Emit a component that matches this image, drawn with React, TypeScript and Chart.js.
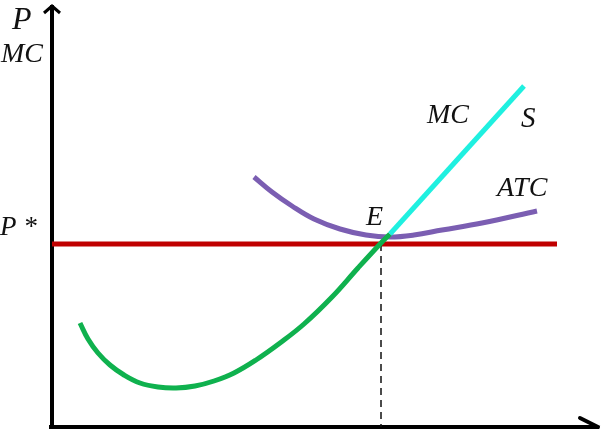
import React, { useEffect, useRef } from "react";
import { Chart, registerables } from "chart.js";

Chart.register(...registerables);

// Units: quantity (x) and price/cost (y), origin at the axes corner.
const mcLower = [
  { x: 28, y: 104 },
  { x: 36, y: 88 },
  { x: 46, y: 74 },
  { x: 58, y: 62 },
  { x: 72, y: 52 },
  { x: 88, y: 44 },
  { x: 106, y: 40 },
  { x: 124, y: 39 },
  { x: 143, y: 41 },
  { x: 162, y: 46 },
  { x: 182, y: 54 },
  { x: 204, y: 67 },
  { x: 228, y: 84 },
  { x: 252, y: 103 },
  { x: 280, y: 130 },
  { x: 306, y: 159 },
  { x: 329, y: 184 },
  { x: 338, y: 193 },
];

const supplyS = [
  { x: 338, y: 193 },
  { x: 472, y: 341 },
];

const atc = [
  { x: 202, y: 250 },
  { x: 220, y: 235 },
  { x: 240, y: 221 },
  { x: 262, y: 208 },
  { x: 288, y: 198 },
  { x: 314, y: 192 },
  { x: 338, y: 190 },
  { x: 362, y: 192 },
  { x: 390, y: 197 },
  { x: 430, y: 204 },
  { x: 485, y: 216 },
];

const pStar = 183;
const qStar = 329;
const priceLine = [
  { x: 0, y: pStar },
  { x: 505, y: pStar },
];
const dropLine = [
  { x: qStar, y: pStar },
  { x: qStar, y: 0 },
];

const yAxisLine = [
  { x: 0, y: -2 },
  { x: 0, y: 422 },
];
const yArrow = [
  { x: -8, y: 414 },
  { x: 0, y: 421 },
  { x: 8, y: 414 },
];
const xAxisLine = [
  { x: -3, y: 0 },
  { x: 546, y: 0 },
];
const xArrow = [
  { x: 528, y: 9 },
  { x: 546, y: 0 },
];

const labels = [
  { text: "P", x: -40, y: 398, size: 32 },
  { text: "MC", x: -51, y: 365, size: 28 },
  { text: "P *", x: -52, y: 192, size: 27 },
  { text: "MC", x: 375, y: 304, size: 28 },
  { text: "S", x: 469, y: 300, size: 29 },
  { text: "ATC", x: 445, y: 231, size: 28 },
  { text: "E", x: 314, y: 202, size: 28 },
];

const labelPlugin = {
  id: "econLabels",
  afterDatasetsDraw(chart: any) {
    const ctx = chart.ctx;
    const xs = chart.scales.x;
    const ys = chart.scales.y;
    ctx.save();
    ctx.fillStyle = "#111111";
    ctx.textBaseline = "alphabetic";
    ctx.textAlign = "left";
    for (const l of labels) {
      ctx.font = `italic ${l.size}px "Liberation Serif", "Times New Roman", Times, serif`;
      ctx.fillText(l.text, xs.getPixelForValue(l.x), ys.getPixelForValue(l.y));
    }
    ctx.restore();
  },
};

export default function App() {
  const ref = useRef<HTMLCanvasElement | null>(null);

  useEffect(() => {
    if (!ref.current) return;
    const line = (data: any[], color: string, width: number, extra: any = {}) => ({
      data,
      borderColor: color,
      backgroundColor: color,
      borderWidth: width,
      pointRadius: 0,
      pointHoverRadius: 0,
      fill: false,
      clip: false,
      borderCapStyle: "butt",
      ...extra,
    });
    const chart = new Chart(ref.current, {
      type: "line",
      data: {
        datasets: [
          line(supplyS, "#1ff0e0", 5),
          line(mcLower, "#0fb14e", 5, { tension: 0.4 }),
          line(atc, "#7b5eb2", 5, { tension: 0.4 }),
          line(dropLine, "#111111", 1.5, { borderDash: [7, 5] }),
          line(priceLine, "#c00000", 5),
          line(yAxisLine, "#000000", 4),
          line(yArrow, "#000000", 3),
          line(xAxisLine, "#000000", 4),
          line(xArrow, "#000000", 4, { borderCapStyle: "round" }),
        ] as any,
      },
      options: {
        responsive: false,
        devicePixelRatio: 1,
        animation: false,
        events: [],
        layout: { padding: 0 },
        plugins: {
          legend: { display: false },
          tooltip: { enabled: false },
        },
        scales: {
          x: { type: "linear", min: -52, max: 562, display: false },
          y: { type: "linear", min: -8, max: 427, display: false },
        },
      },
      plugins: [labelPlugin],
    });
    return () => chart.destroy();
  }, []);

  return (
    <canvas
      ref={ref}
      width={614}
      height={435}
      style={{ position: "absolute", left: 0, top: 0, width: 614, height: 435, background: "#ffffff" }}
    />
  );
}
